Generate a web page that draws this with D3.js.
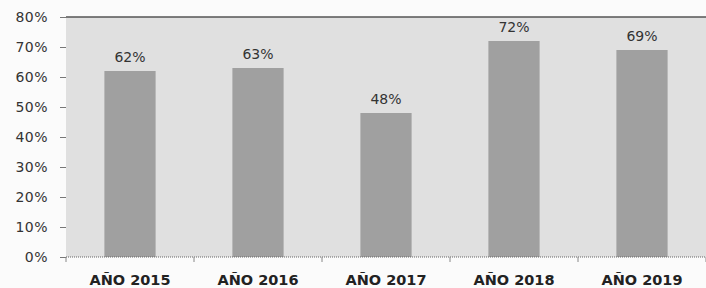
<!DOCTYPE html>
<html>
<head>
<meta charset="utf-8">
<script src="https://cdn.jsdelivr.net/npm/d3@7"></script>
<style>
  body { margin: 0; background: #fbfbfb; }
  svg { display: block; }
</style>
</head>
<body>
<svg id="chart" width="706" height="288"></svg>
<script>
// values
var years = ['AÑO 2015', 'AÑO 2016', 'AÑO 2017', 'AÑO 2018', 'AÑO 2019'];
var rates = [0.62, 0.63, 0.48, 0.72, 0.69];
var yTicks = [0, 0.1, 0.2, 0.3, 0.4, 0.5, 0.6, 0.7, 0.8];

var svg = d3.select('#chart'),
    margin = { top: 17, right: 0, bottom: 31, left: 66 },
    width = 706 - margin.left - margin.right,
    height = 288 - margin.top - margin.bottom;

var g = svg.append('g')
    .attr('transform', 'translate(' + margin.left + ',' + margin.top + ')');

var x = d3.scaleBand()
    .domain(years)
    .range([0, width])
    .paddingInner(0.6)
    .paddingOuter(0.3);

var y = d3.scaleLinear()
    .domain([0, 0.8])
    .range([height, 0]);

// plot area
g.append('rect')
    .attr('width', width)
    .attr('height', height)
    .attr('fill', '#e0e0e0');

g.append('line')
    .attr('x1', 0).attr('x2', width)
    .attr('y1', 0).attr('y2', 0)
    .attr('stroke', '#555')
    .attr('stroke-width', 1.5);

g.selectAll('rect.bar')
    .data(rates)
    .enter().append('rect')
    .attr('class', 'bar')
    .attr('x', function(d, i) { return x(years[i]); })
    .attr('y', function(d) { return y(d); })
    .attr('width', x.bandwidth())
    .attr('height', function(d) { return height - y(d); })
    .attr('fill', '#a0a0a0');

g.selectAll('text.val')
    .data(rates)
    .enter().append('text')
    .attr('class', 'val')
    .attr('x', function(d, i) { return x(years[i]) + x.bandwidth() / 2; })
    .attr('y', function(d) { return y(d) - 9; })
    .attr('text-anchor', 'middle')
    .attr('font-family', 'DejaVu Sans, sans-serif')
    .attr('font-size', 14)
    .attr('fill', '#333')
    .text(function(d) { return d3.format('.0%')(d); });

// y axis
var yAxis = g.append('g')
    .call(d3.axisLeft(y).tickValues(yTicks).tickFormat(d3.format('.0%')).tickSize(6).tickPadding(12));
yAxis.select('.domain').remove();
yAxis.selectAll('line').attr('stroke', '#777');
yAxis.selectAll('text')
    .attr('font-family', 'DejaVu Sans, sans-serif')
    .attr('font-size', 14)
    .attr('letter-spacing', 0.5)
    .attr('fill', '#333');

// x axis: dotted base line, ticks between categories
var xAxis = g.append('g')
    .attr('transform', 'translate(0,' + height + ')');
xAxis.append('line')
    .attr('x1', 0).attr('x2', width)
    .attr('stroke', '#666')
    .attr('stroke-dasharray', '1,1');
xAxis.selectAll('line.tick')
    .data(d3.range(years.length + 1))
    .enter().append('line')
    .attr('class', 'tick')
    .attr('x1', function(i) { return i * width / years.length; })
    .attr('x2', function(i) { return i * width / years.length; })
    .attr('y1', 0).attr('y2', 5)
    .attr('stroke', '#888');
xAxis.selectAll('text')
    .data(years)
    .enter().append('text')
    .attr('x', function(d) { return x(d) + x.bandwidth() / 2; })
    .attr('y', 28)
    .attr('text-anchor', 'middle')
    .attr('font-family', 'DejaVu Sans, sans-serif')
    .attr('font-weight', 'bold')
    .attr('font-size', 14.5)
    .attr('fill', '#222')
    .text(function(d) { return d; });
</script>
</body>
</html>
